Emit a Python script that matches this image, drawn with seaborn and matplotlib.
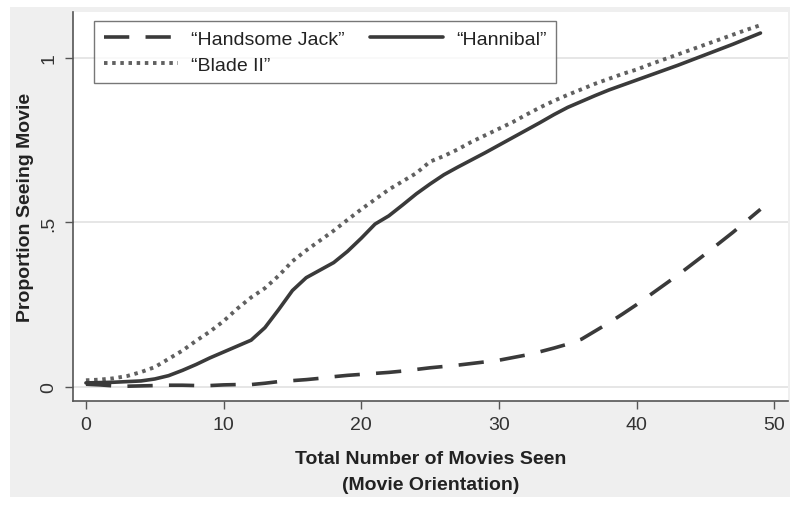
import matplotlib
matplotlib.use('Agg')
import matplotlib.pyplot as plt
import numpy as np
import pandas as pd
import seaborn as sns

# values (x = total movies seen, 0..49)
movies_seen = list(range(50))

handsome_jack = [0.008, 0.006, 0.003, 0.002, 0.003, 0.004, 0.005, 0.005, 0.004, 0.004,
                 0.006, 0.007, 0.007, 0.011, 0.016, 0.019, 0.022, 0.026, 0.031, 0.035,
                 0.038, 0.041, 0.044, 0.048, 0.053, 0.058, 0.062, 0.066, 0.071, 0.076,
                 0.081, 0.089, 0.097, 0.107, 0.118, 0.130, 0.145, 0.170, 0.195, 0.222,
                 0.250, 0.280, 0.310, 0.340, 0.372, 0.404, 0.437, 0.470, 0.505, 0.540]

hannibal = [0.012, 0.013, 0.014, 0.016, 0.018, 0.024, 0.034, 0.050, 0.068, 0.088,
            0.106, 0.124, 0.142, 0.180, 0.235, 0.293, 0.332, 0.355, 0.378, 0.412,
            0.452, 0.495, 0.520, 0.553, 0.587, 0.617, 0.645, 0.668, 0.690, 0.712,
            0.735, 0.758, 0.781, 0.804, 0.828, 0.850, 0.868, 0.886, 0.903, 0.918,
            0.933, 0.948, 0.963, 0.978, 0.994, 1.010, 1.026, 1.042, 1.059, 1.076]

blade_ii = [0.020, 0.022, 0.026, 0.033, 0.045, 0.060, 0.085, 0.110, 0.140, 0.168,
            0.200, 0.238, 0.272, 0.300, 0.338, 0.382, 0.415, 0.445, 0.475, 0.508,
            0.540, 0.570, 0.600, 0.625, 0.650, 0.685, 0.702, 0.722, 0.745, 0.765,
            0.785, 0.805, 0.828, 0.850, 0.870, 0.888, 0.905, 0.922, 0.937, 0.952,
            0.965, 0.981, 0.996, 1.011, 1.026, 1.041, 1.056, 1.071, 1.086, 1.100]

x_ticks = [0, 10, 20, 30, 40, 50]
y_ticks = [0, 0.5, 1]
y_tick_labels = ['0', '.5', '1']

sns.set_theme(style='white')
plt.rcParams['font.family'] = ['Liberation Sans', 'DejaVu Sans']

BG = '#efefef'
LINE_DARK = '#3a3a3a'
LINE_DOT = '#606060'

fig = plt.figure(figsize=(8, 5.06), dpi=100)
fig.patch.set_facecolor('white')
# grey graph region, with a thin white margin round it
fig.add_artist(plt.Rectangle((10 / 800, 8 / 506), 780 / 800, 490 / 506,
                             transform=fig.transFigure, facecolor=BG,
                             edgecolor='none', zorder=-10))

ax = fig.add_axes([73 / 800, 1 - 402 / 506, 715 / 800, 389 / 506])
ax.set_facecolor('white')

df = pd.DataFrame({'x': movies_seen, 'jack': handsome_jack,
                   'hannibal': hannibal, 'blade': blade_ii})

sns.lineplot(data=df, x='x', y='jack', ax=ax, color=LINE_DARK, lw=2.6,
             label='\u201cHandsome Jack\u201d', dashes=False)
sns.lineplot(data=df, x='x', y='blade', ax=ax, color=LINE_DOT, lw=2.8,
             label='\u201cBlade II\u201d', dashes=False)
sns.lineplot(data=df, x='x', y='hannibal', ax=ax, color=LINE_DARK, lw=2.6,
             label='\u201cHannibal\u201d', dashes=False)

lines = ax.get_lines()
lines[0].set_dashes((7, 4.5))
lines[1].set_dashes((0.9, 1.2))

ax.set_xlim(-0.94, 51.0)
ax.set_ylim(-0.043, 1.14)
ax.set_xticks(x_ticks)
ax.set_yticks(y_ticks)
ax.set_yticklabels(y_tick_labels, rotation=90, va='center')
ax.tick_params(axis='both', which='major', length=6, width=1, color='#555555',
               labelsize=14, labelcolor='#333333', direction='out',
               bottom=True, left=True, pad=5)

ax.grid(axis='y', color='#e6e6e6', lw=1.4)
ax.grid(axis='x', visible=False)
for side in ['top', 'right']:
    ax.spines[side].set_visible(False)
for side in ['left', 'bottom']:
    ax.spines[side].set_color('#555555')
    ax.spines[side].set_linewidth(1.2)

ax.set_xlabel('Total Number of Movies Seen\n(Movie Orientation)', fontsize=14,
              fontweight='bold', color='#222222', labelpad=12, linespacing=1.7)
ax.set_ylabel('Proportion Seeing Movie', fontsize=14, fontweight='bold',
              color='#222222', labelpad=5)

handles, labels = ax.get_legend_handles_labels()
leg = ax.legend(handles, labels, ncol=2, loc='upper left',
                bbox_to_anchor=(0.030, 0.977), fontsize=14, frameon=True,
                fancybox=False, handlelength=3.8, handletextpad=0.65,
                columnspacing=1.3, labelspacing=0.4, borderpad=0.5,
                borderaxespad=0)
leg.get_frame().set_edgecolor('#555555')
leg.get_frame().set_linewidth(1.0)
for t in leg.get_texts():
    t.set_color('#222222')

fig.savefig('out.png', dpi=100, facecolor=fig.get_facecolor())
